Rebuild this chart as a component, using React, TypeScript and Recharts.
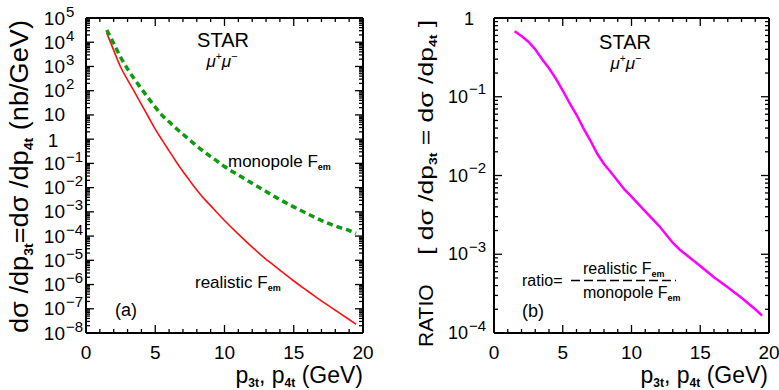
import React from "react";
import { LineChart, Line, XAxis, YAxis } from "recharts";

const pt = [1.5, 2, 2.5, 3, 3.5, 4, 4.5, 5, 5.5, 6, 6.5, 7, 7.5, 8, 8.5, 9, 9.5, 10, 11, 12, 13, 13.5, 14, 15, 16, 17, 18, 19, 19.5];

const monopole = [
  3.2e4, 8.9e3, 2.4e3, 7.9e2, 3.0e2, 1.2e2, 50, 21, 9.5, 5.2, 2.8, 1.6, 0.91, 0.52, 0.31,
  0.19, 0.12, 0.074, 0.033, 0.015, 6.9e-3, 4.7e-3, 3.2e-3, 1.6e-3, 8.3e-4, 4.4e-4, 2.6e-4, 1.7e-4, 1.3e-4,
];

const realistic = [
  2.4e4, 4.6e3, 9.5e2, 2.8e2, 89, 27, 8.4, 2.6, 0.91, 0.33, 0.12, 0.046, 0.019, 7.9e-3, 3.6e-3,
  1.8e-3, 8.7e-4, 4.4e-4, 1.2e-4, 3.5e-5, 1.1e-5, 6.6e-6, 3.9e-6, 1.4e-6, 5.4e-7, 2.1e-7, 8.7e-8, 3.6e-8, 2.3e-8,
];

const ratio = [
  0.68, 0.59, 0.5, 0.4, 0.3, 0.23, 0.17, 0.12, 0.083, 0.059, 0.04, 0.028, 0.019, 0.014, 0.011,
  8.5e-3, 6.6e-3, 5.4e-3, 3.5e-3, 2.3e-3, 1.4e-3, 1.15e-3, 9.8e-4, 7.1e-4, 5.1e-4, 3.8e-4, 2.8e-4, 2.0e-4, 1.66e-4,
];

const xTicks = [0, 1, 2, 3, 4, 5, 6, 7, 8, 9, 10, 11, 12, 13, 14, 15, 16, 17, 18, 19, 20];

const leftData = pt.map((p, i) => ({ pt: p, monopole: monopole[i], realistic: realistic[i] }));
const rightData = pt.map((p, i) => ({ pt: p, ratio: ratio[i] }));

// 1..9 x 10^e for every decade between lo and hi
function logTicks(lo: number, hi: number) {
  const out: number[] = [];
  for (let e = lo; e < hi; e++) {
    for (let m = 1; m <= 9; m++) out.push(Number(m + "e" + e));
  }
  out.push(Number("1e" + hi));
  return out;
}

const FONT = '"Liberation Sans", Arial, Helvetica, sans-serif';
const NARROW = '"Liberation Sans Narrow", "Liberation Sans", Arial, sans-serif';
const AX = { stroke: "#000", strokeWidth: 2 };

function XTick(props: any) {
  const { x, y, payload, top } = props;
  const v = payload.value;
  const major = v % 5 === 0;
  const len = major ? 8 : 4;
  const dir = top ? 1 : -1;
  return (
    <g>
      <line x1={x} x2={x} y1={y} y2={y + dir * len} stroke="#000" strokeWidth={1.3} />
      {!top && major && (
        <text x={x} y={y + 19} textAnchor="middle" dominantBaseline="central" fontSize={19} fontFamily={FONT} fill="#000">
          {v}
        </text>
      )}
    </g>
  );
}

function YTick(props: any) {
  const { x, y, payload, right, cfg } = props;
  const v = payload.value;
  const lg = Math.log10(v);
  const e = Math.round(lg);
  const major = Math.abs(lg - e) < 1e-6;
  const len = major ? 8 : 4;
  const dir = right ? -1 : 1;
  let label = null;
  if (!right && major) {
    if (e === 0) {
      label = (
        <text x={x - cfg.one} y={y + 1} textAnchor="middle" dominantBaseline="central" fontSize={cfg.fs} fontFamily={FONT}>
          1
        </text>
      );
    } else if (e === 1 && cfg.ten) {
      label = (
        <text x={x - cfg.man} y={y} textAnchor="end" dominantBaseline="central" fontSize={cfg.fs} fontFamily={FONT}>
          10
        </text>
      );
    } else {
      label = (
        <g>
          <text x={x - cfg.man} y={y} textAnchor="end" dominantBaseline="central" fontSize={cfg.fs} fontFamily={FONT}>
            10
          </text>
          <text x={x - cfg.man + 1} y={y - cfg.up} textAnchor="start" dominantBaseline="central" fontSize={cfg.efs} fontFamily={FONT}>
            {e < 0 ? "\u2212" + -e : e}
          </text>
        </g>
      );
    }
  }
  return (
    <g>
      <line x1={x} x2={x + dir * len} y1={y} y2={y} stroke="#000" strokeWidth={1.3} />
      {label}
    </g>
  );
}

const leftCfg = { fs: 19, efs: 15, man: 21, up: 7, one: 33, ten: true };
const rightCfg = { fs: 18, efs: 15, man: 26, up: 8, one: 25, ten: false };

export default function App() {
  const leftY = logTicks(-8, 5);
  const rightY = logTicks(-4, 0);
  return (
    <div style={{ position: "fixed", left: 0, top: 0, width: 779, height: 390, background: "#fff", overflow: "hidden" }}>
      <div style={{ position: "absolute", left: 0, top: 0 }}>
        <LineChart width={390} height={390} data={leftData} margin={{ top: 17, right: 26, bottom: 27, left: 26 }}>
          <XAxis xAxisId="b" dataKey="pt" type="number" domain={[0, 20]} allowDataOverflow ticks={xTicks} interval={0}
            tickSize={0} tickMargin={0} height={30} axisLine={AX} tickLine={false} tick={(p: any) => <XTick {...p} />} />
          <XAxis xAxisId="t" orientation="top" dataKey="pt" type="number" domain={[0, 20]} allowDataOverflow ticks={xTicks} interval={0}
            tickSize={0} tickMargin={0} height={1} axisLine={AX} tickLine={false} tick={(p: any) => <XTick {...p} top />} />
          <YAxis yAxisId="l" scale="log" type="number" domain={[1e-8, 1e5]} allowDataOverflow ticks={leftY} interval={0}
            width={60} tickSize={0} tickMargin={0} axisLine={AX} tickLine={false} tick={(p: any) => <YTick {...p} cfg={leftCfg} />} />
          <YAxis yAxisId="r" orientation="right" scale="log" type="number" domain={[1e-8, 1e5]} allowDataOverflow ticks={leftY} interval={0}
            width={1} tickSize={0} tickMargin={0} axisLine={AX} tickLine={false} tick={(p: any) => <YTick {...p} right />} />
          <Line xAxisId="b" yAxisId="l" dataKey="realistic" type="monotone" stroke="#ff1010" strokeWidth={1.6} dot={false} isAnimationActive={false} />
          <Line xAxisId="b" yAxisId="l" dataKey="monopole" type="monotone" stroke="#109a10" strokeWidth={3.5} strokeDasharray="6 4" dot={false} isAnimationActive={false} />
        </LineChart>
      </div>
      <div style={{ position: "absolute", left: 390, top: 0 }}>
        <LineChart width={389} height={390} data={rightData} margin={{ top: 17, right: 9, bottom: 27, left: 44 }}>
          <XAxis xAxisId="b" dataKey="pt" type="number" domain={[0, 20]} allowDataOverflow ticks={xTicks} interval={0}
            tickSize={0} tickMargin={0} height={30} axisLine={AX} tickLine={false} tick={(p: any) => <XTick {...p} />} />
          <XAxis xAxisId="t" orientation="top" dataKey="pt" type="number" domain={[0, 20]} allowDataOverflow ticks={xTicks} interval={0}
            tickSize={0} tickMargin={0} height={1} axisLine={AX} tickLine={false} tick={(p: any) => <XTick {...p} top />} />
          <YAxis yAxisId="l" scale="log" type="number" domain={[1e-4, 1]} allowDataOverflow ticks={rightY} interval={0}
            width={60} tickSize={0} tickMargin={0} axisLine={AX} tickLine={false} tick={(p: any) => <YTick {...p} cfg={rightCfg} />} />
          <YAxis yAxisId="r" orientation="right" scale="log" type="number" domain={[1e-4, 1]} allowDataOverflow ticks={rightY} interval={0}
            width={1} tickSize={0} tickMargin={0} axisLine={AX} tickLine={false} tick={(p: any) => <YTick {...p} right />} />
          <Line xAxisId="b" yAxisId="l" dataKey="ratio" type="linear" stroke="#ff00ff" strokeWidth={2.5} dot={false} isAnimationActive={false} />
        </LineChart>
      </div>

      <svg width={779} height={390} style={{ position: "absolute", left: 0, top: 0, pointerEvents: "none" }} fontFamily={FONT} fill="#000">
        {/* left panel labels */}
        <text x={223} y={47} textAnchor="middle" fontSize={20} fontFamily={NARROW}>STAR</text>
        <text x={222} y={67} textAnchor="middle" fontSize={17} fontStyle="italic">
          μ<tspan fontSize={10} dy={-7}>+</tspan><tspan dy={7}>μ</tspan><tspan fontSize={11} dy={-7}>−</tspan>
        </text>
        <text x={228} y={167} fontSize={17}>
          monopole F<tspan fontSize={9} fontWeight="bold" dy={3}>em</tspan>
        </text>
        <text x={195} y={288} fontSize={17}>
          realistic F<tspan fontSize={9} fontWeight="bold" dy={3}>em</tspan>
        </text>
        <text x={115} y={316} fontSize={18}>(a)</text>
        <text x={363} y={383} textAnchor="end" fontSize={23}>
          p<tspan fontSize={12} fontWeight="bold" dy={4}>3t</tspan><tspan dy={-4}>, p</tspan><tspan fontSize={12} fontWeight="bold" dy={4}>4t</tspan><tspan dy={-4}> (GeV)</tspan>
        </text>
        <text transform="translate(28,333) rotate(-90)" fontSize={25} textLength={313} lengthAdjust="spacingAndGlyphs">
          dσ /dp<tspan fontSize={13} fontWeight="bold" dy={5}>3t</tspan><tspan dy={-5}>=dσ /dp</tspan><tspan fontSize={13} fontWeight="bold" dy={5}>4t</tspan><tspan dy={-5}> (nb/GeV)</tspan>
        </text>

        {/* right panel labels */}
        <text x={625} y={49} textAnchor="middle" fontSize={20} fontFamily={NARROW}>STAR</text>
        <text x={626} y={69} textAnchor="middle" fontSize={17} fontStyle="italic">
          μ<tspan fontSize={10} dy={-7}>+</tspan><tspan dy={7}>μ</tspan><tspan fontSize={11} dy={-7}>−</tspan>
        </text>
        <text x={522} y={286} fontSize={16}>ratio=</text>
        <line x1={571} x2={676} y1={280.5} y2={280.5} stroke="#000" strokeWidth={1.5} strokeDasharray="9 4" />
        <text x={583} y={274} fontSize={16}>
          realistic F<tspan fontSize={9} fontWeight="bold" dy={3}>em</tspan>
        </text>
        <text x={583} y={298} fontSize={16}>
          monopole F<tspan fontSize={9} fontWeight="bold" dy={3}>em</tspan>
        </text>
        <text x={522} y={317} fontSize={18}>(b)</text>
        <text x={768} y={383} textAnchor="end" fontSize={23}>
          p<tspan fontSize={12} fontWeight="bold" dy={4}>3t</tspan><tspan dy={-4}>, p</tspan><tspan fontSize={12} fontWeight="bold" dy={4}>4t</tspan><tspan dy={-4}> (GeV)</tspan>
        </text>
        <text transform="translate(433,347) rotate(-90)" fontSize={21} fontFamily={NARROW}>RATIO</text>
        <text transform="translate(433,20) rotate(-90)" textAnchor="end" fontSize={21} textLength={235} lengthAdjust="spacingAndGlyphs">
          [ dσ /dp<tspan fontSize={11} fontWeight="bold" dy={4}>3t</tspan><tspan dy={-4}> = dσ /dp</tspan><tspan fontSize={11} fontWeight="bold" dy={4}>4t</tspan><tspan dy={-4}> ]</tspan>
        </text>
      </svg>
    </div>
  );
}
